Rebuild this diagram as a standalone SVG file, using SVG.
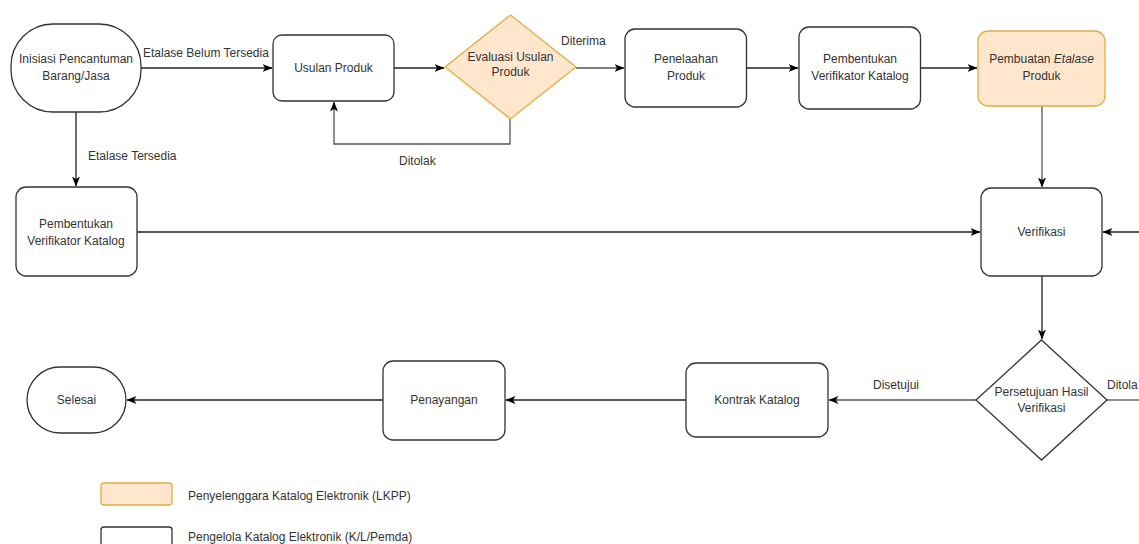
<svg xmlns="http://www.w3.org/2000/svg" width="1139" height="544" viewBox="0 0 1139 544">
<style>
.n{fill:#ffffff;stroke:#333333;stroke-width:1.3}
.o{fill:#ffe6cc;stroke:#e0ad40;stroke-width:1.3}
.t{font-family:"Liberation Sans",Arial,sans-serif;font-size:12px;fill:#333333;text-anchor:middle}
.l{font-family:"Liberation Sans",Arial,sans-serif;font-size:12px;fill:#333333}
.c{fill:none;stroke:#222222;stroke-width:1.3}
.g{fill:none;stroke:#555555;stroke-width:1.3}
</style>
<defs>
<marker id="a" viewBox="0 0 10 8" refX="9.5" refY="4" markerWidth="10" markerHeight="8" markerUnits="userSpaceOnUse" orient="auto">
<path d="M0,0 L10,4 L0,8 L2.5,4 Z" fill="#000000"/>
</marker>
</defs>
<rect width="1139" height="544" fill="#ffffff"/>

<g id="connectors">
<path class="c" d="M141,68 H272" marker-end="url(#a)"/>
<path class="c" d="M394,68 H444" marker-end="url(#a)"/>
<path class="g" d="M510,119 V144 H334 V102" marker-end="url(#a)"/>
<path class="g" d="M576,68 H624" marker-end="url(#a)"/>
<path class="c" d="M747,68 H798" marker-end="url(#a)"/>
<path class="c" d="M921,68 H977" marker-end="url(#a)"/>
<path class="g" d="M1042,106 V187" marker-end="url(#a)"/>
<path class="c" d="M76,112 V186" marker-end="url(#a)"/>
<path class="c" d="M137,232 H980" marker-end="url(#a)"/>
<path class="c" d="M1139,232 H1103" marker-end="url(#a)"/>
<path class="c" d="M1042,276 V339" marker-end="url(#a)"/>
<path class="g" d="M1107,400 H1139"/>
<path class="g" d="M976,400 H829" marker-end="url(#a)"/>
<path class="c" d="M686,400 H506" marker-end="url(#a)"/>
<path class="c" d="M383,400 H127" marker-end="url(#a)"/>
<text class="l" x="143" y="57">Etalase Belum Tersedia</text>
<text class="l" x="561" y="45">Diterima</text>
<text class="l" x="399" y="165">Ditolak</text>
<text class="l" x="88" y="160">Etalase Tersedia</text>
<text class="l" x="873" y="389">Disetujui</text>
<text class="l" x="1107" y="389">Ditola</text>
</g>

<g id="inisiasi">
<rect class="n" x="11" y="24" width="130" height="88" rx="42" ry="42"/>
<text class="t" x="76" y="63">Inisiasi Pencantuman</text>
<text class="t" x="76" y="80">Barang/Jasa</text>
</g>
<g id="usulan">
<rect class="n" x="273" y="35" width="121" height="66" rx="9"/>
<text class="t" x="333.5" y="72">Usulan Produk</text>
</g>
<g id="evaluasi">
<path class="o" d="M510.5,15 L576,67 L510.5,119 L445,67 Z"/>
<text class="t" x="510.5" y="61">Evaluasi Usulan</text>
<text class="t" x="510.5" y="76">Produk</text>
</g>
<g id="penelaahan">
<rect class="n" x="625" y="29" width="121.5" height="78" rx="10"/>
<text class="t" x="686" y="63">Penelaahan</text>
<text class="t" x="686" y="80">Produk</text>
</g>
<g id="pembentukan1">
<rect class="n" x="799" y="27" width="121.5" height="82" rx="10"/>
<text class="t" x="860" y="63">Pembentukan</text>
<text class="t" x="860" y="80">Verifikator Katalog</text>
</g>
<g id="pembuatan">
<rect class="o" x="978" y="31" width="127" height="75" rx="10"/>
<text class="t" x="1041.5" y="63">Pembuatan <tspan font-style="italic">Etalase</tspan></text>
<text class="t" x="1041.5" y="80">Produk</text>
</g>
<g id="pembentukan2">
<rect class="n" x="16" y="187" width="121" height="89" rx="10"/>
<text class="t" x="76" y="228">Pembentukan</text>
<text class="t" x="76" y="245">Verifikator Katalog</text>
</g>
<g id="verifikasi">
<rect class="n" x="981" y="188" width="121" height="88" rx="10"/>
<text class="t" x="1041.5" y="236">Verifikasi</text>
</g>
<g id="persetujuan">
<path class="n" d="M1041.5,340 L1107,400 L1041.5,460 L976,400 Z"/>
<text class="t" x="1041.5" y="396">Persetujuan Hasil</text>
<text class="t" x="1041.5" y="412">Verifikasi</text>
</g>
<g id="kontrak">
<rect class="n" x="686" y="363" width="142" height="74" rx="10"/>
<text class="t" x="757" y="404">Kontrak Katalog</text>
</g>
<g id="penayangan">
<rect class="n" x="383" y="361" width="122" height="79" rx="10"/>
<text class="t" x="444" y="404">Penayangan</text>
</g>
<g id="selesai">
<rect class="n" x="27" y="367" width="99" height="66" rx="33" ry="33"/>
<text class="t" x="76.5" y="404">Selesai</text>
</g>
<g id="legend">
<rect class="o" x="101" y="483" width="71" height="22" rx="3"/>
<text class="l" x="188" y="500">Penyelenggara Katalog Elektronik (LKPP)</text>
<rect class="n" x="101" y="527" width="71" height="22" rx="3"/>
<text class="l" x="188" y="541">Pengelola Katalog Elektronik (K/L/Pemda)</text>
</g>
</svg>
